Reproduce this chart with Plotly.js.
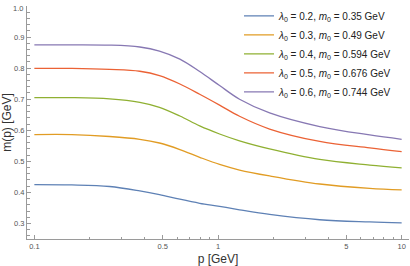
<!DOCTYPE html>
<html>
<head>
<meta charset="utf-8">
<script src="https://cdn.plot.ly/plotly-3.0.1.min.js"></script>
<style>html,body{margin:0;padding:0;background:#fff;}#chart{width:410px;height:266px;}</style>
</head>
<body>
<div id="chart"></div>
<script>
// momentum p [GeV]
var pValues = [0.1, 0.16, 0.257, 0.375, 0.48, 0.62, 0.795, 1.02, 1.31, 1.91, 3.58, 6.7, 10];
// m(p) [GeV] for each parameter set
var m_l02 = [0.425, 0.424, 0.419, 0.405, 0.393, 0.378, 0.365, 0.355, 0.344, 0.329, 0.312, 0.305, 0.302];
var m_l03 = [0.586, 0.586, 0.580, 0.571, 0.559, 0.538, 0.513, 0.490, 0.472, 0.453, 0.427, 0.413, 0.408];
var m_l04 = [0.705, 0.705, 0.701, 0.690, 0.674, 0.646, 0.614, 0.588, 0.566, 0.540, 0.506, 0.488, 0.479];
var m_l05 = [0.799, 0.799, 0.796, 0.790, 0.776, 0.749, 0.716, 0.681, 0.645, 0.604, 0.564, 0.543, 0.531];
var m_l06 = [0.875, 0.875, 0.874, 0.868, 0.855, 0.829, 0.789, 0.744, 0.700, 0.656, 0.612, 0.585, 0.571];
var seriesNames = [
  "<i>λ</i><sub>0</sub> = 0.2, <i>m</i><sub>0</sub> = 0.35 GeV",
  "<i>λ</i><sub>0</sub> = 0.3, <i>m</i><sub>0</sub> = 0.49 GeV",
  "<i>λ</i><sub>0</sub> = 0.4, <i>m</i><sub>0</sub> = 0.594 GeV",
  "<i>λ</i><sub>0</sub> = 0.5, <i>m</i><sub>0</sub> = 0.676 GeV",
  "<i>λ</i><sub>0</sub> = 0.6, <i>m</i><sub>0</sub> = 0.744 GeV"
];
var xTickVals = [0.1, 0.5, 1, 5, 10];
var xTickText = ["0.1", "0.5", "1", "5", "10"];
var xMinorVals = [0.2, 0.3, 0.4, 0.6, 0.7, 0.8, 0.9, 2, 3, 4, 6, 7, 8, 9];
var yTickVals = [0.3, 0.4, 0.5, 0.6, 0.7, 0.8, 0.9];
var yTickText = ["0.3", "0.4", "0.5", "0.6", "0.7", "0.8", "0.9"];
var yTopText = "1.0";

var colors = ["#5E81B5", "#E19C24", "#8FB032", "#EB6235", "#8778B3"];
var ys = [m_l02, m_l03, m_l04, m_l05, m_l06];
var traces = ys.map(function (y, i) {
  return {
    x: pValues, y: y, type: "scatter", mode: "lines",
    name: seriesNames[i], legendgroup: "g" + i,
    line: {color: colors[i], width: 1.3, shape: "spline", smoothing: 1}
  };
});

var axisColor = "#9a9a9a";
var layout = {
  width: 410, height: 266,
  margin: {l: 27, r: 1, t: 3, b: 27},
  paper_bgcolor: "#fff", plot_bgcolor: "#fff",
  font: {family: "Liberation Sans, Arial, sans-serif", color: "#333"},
  showlegend: true,
  legend: {
    x: 0.555, y: 1.02, xanchor: "left", yanchor: "top",
    bgcolor: "rgba(0,0,0,0)", font: {size: 10, color: "#222"},
    tracegroupgap: 0, itemwidth: 30
  },
  annotations: [{
    x: 0, xref: "paper", y: 1, yref: "paper", text: yTopText,
    showarrow: false, xanchor: "right", yanchor: "middle", xshift: -2, yshift: -2,
    font: {size: 7.5, color: "#555"}
  }],
  xaxis: {
    type: "log", range: [-1.04, 1.04],
    showgrid: false, zeroline: false, showline: true, linecolor: axisColor, linewidth: 1,
    ticks: "inside", ticklen: 4, tickcolor: axisColor, tickwidth: 1,
    tickmode: "array", tickvals: xTickVals, ticktext: xTickText,
    tickfont: {size: 7.5, color: "#555"},
    minor: {tickmode: "array", tickvals: xMinorVals, ticks: "inside", ticklen: 2.5, tickcolor: axisColor, showgrid: false},
    title: {text: "p [GeV]", font: {size: 12, color: "#333"}}
  },
  yaxis: {
    range: [0.25, 1.0],
    showgrid: false, zeroline: false, showline: true, linecolor: axisColor, linewidth: 1,
    ticks: "inside", ticklen: 4, tickcolor: axisColor, tickwidth: 1,
    tickmode: "array", tickvals: yTickVals, ticktext: yTickText,
    tickfont: {size: 7.5, color: "#555"},
    minor: {dtick: 0.02, tick0: 0, ticks: "inside", ticklen: 2.5, tickcolor: axisColor, showgrid: false},
    title: {text: "m(p) [GeV]", font: {size: 12, color: "#333"}}
  }
};
Plotly.newPlot("chart", traces, layout, {displayModeBar: false, staticPlot: true});
</script>
</body>
</html>
